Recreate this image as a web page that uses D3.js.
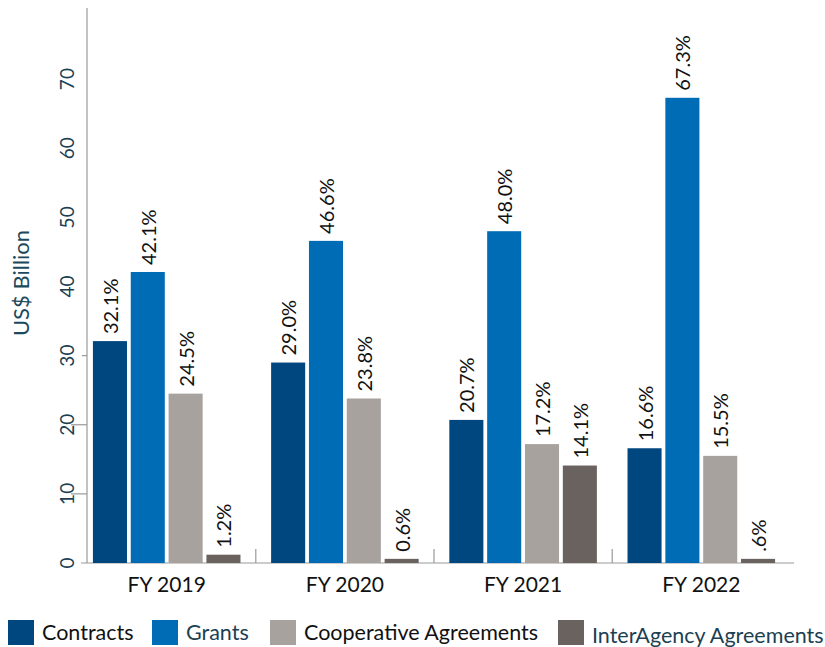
<!DOCTYPE html>
<html><head><meta charset="utf-8">
<script src="https://cdn.jsdelivr.net/npm/d3@7"></script>
<style>body{margin:0;background:#fff}svg{display:block;font-family:Lato,"Open Sans",sans-serif}</style>
</head><body><svg id="c" width="825" height="647"></svg>
<script>
const years = ["FY 2019","FY 2020","FY 2021","FY 2022"];
const seriesNames = ["Contracts","Grants","Cooperative Agreements","InterAgency Agreements"];
const contracts = [32.1, 29.0, 20.7, 16.6];
const grants = [42.1, 46.6, 48.0, 67.3];
const cooperative = [24.5, 23.8, 17.2, 15.5];
const interagency = [1.2, 0.6, 14.1, 0.6];
const barLabels = [
  ["32.1%","42.1%","24.5%","1.2%"],
  ["29.0%","46.6%","23.8%","0.6%"],
  ["20.7%","48.0%","17.2%","14.1%"],
  ["16.6%","67.3%","15.5%",".6%"]
];
const yTicks = [0,10,20,30,40,50,60,70];
const colors = ["#00467f","#006cb5","#a8a29f","#69625f"];
const legendTextColors = ["#111","#1c3f52","#111","#1c3f52"];

const series = [contracts, grants, cooperative, interagency];
const svg = d3.select("#c");
const y = d3.scaleLinear().domain([0,80]).range([563,10]);
const x = d3.scaleBand().domain(years).range([77.6,790.4]).paddingInner(0.172).paddingOuter(0.086);
const xi = d3.scaleBand().domain(d3.range(4)).range([0, x.bandwidth()]).paddingInner(0.1).paddingOuter(0);
const axisX = 87, axisEnd = 794;

svg.append("line").attr("x1",axisX).attr("x2",axisX).attr("y1",y(80)-2).attr("y2",y(0)).attr("stroke","#999").attr("stroke-width",1.2);
svg.append("line").attr("x1",axisX-6).attr("x2",axisEnd).attr("y1",y(0)).attr("y2",y(0)).attr("stroke","#999").attr("stroke-width",1.2);
yTicks.forEach(t=>{
  if(t>0 && t<=30){
    svg.append("line").attr("x1",t===30?axisX-5:axisX-16).attr("x2",axisX).attr("y1",y(t)).attr("y2",y(t)).attr("stroke","#999").attr("stroke-width",1.2);
  }
  svg.append("text").attr("transform",`translate(${74},${y(t)}) rotate(-90)`)
    .attr("text-anchor","middle").attr("font-size",19).attr("fill","#1c3f52").text(t);
});
svg.append("text").attr("transform",`translate(29,283) rotate(-90)`).attr("text-anchor","middle")
  .attr("font-size",22).attr("fill","#1c4a5c").text("US$ Billion");

years.slice(1).forEach(yr=>{
  const sx = x(yr) - x.step()*x.paddingInner()/2;
  svg.append("line").attr("x1",sx).attr("x2",sx).attr("y1",y(0)).attr("y2",y(0)-14).attr("stroke","#999").attr("stroke-width",1.2);
});

years.forEach((yr,gi)=>{
  series.forEach((s,si)=>{
    const bx = x(yr)+xi(si);
    svg.append("rect").attr("x",bx).attr("y",y(s[gi])).attr("width",xi.bandwidth()).attr("height",y(0)-y(s[gi])).attr("fill",colors[si]);
    svg.append("text").attr("transform",`translate(${bx+xi.bandwidth()/2+8},${y(s[gi])-7}) rotate(-90)`)
      .attr("font-size",20).attr("fill","#111").text(barLabels[gi][si]);
  });
  svg.append("text").attr("x",x(yr)+x.bandwidth()/2).attr("y",592).attr("text-anchor","middle")
    .attr("font-size",21).attr("fill","#111").text(yr);
});

const legX = [8,152,270,558];
seriesNames.forEach((n,i)=>{
  svg.append("rect").attr("x",legX[i]).attr("y",620).attr("width",26).attr("height",25).attr("fill",colors[i]);
  svg.append("text").attr("x",legX[i]+34).attr("y",i===3?643:640).attr("font-size",21.5).attr("fill",legendTextColors[i]).text(n);
});
</script></body></html>
